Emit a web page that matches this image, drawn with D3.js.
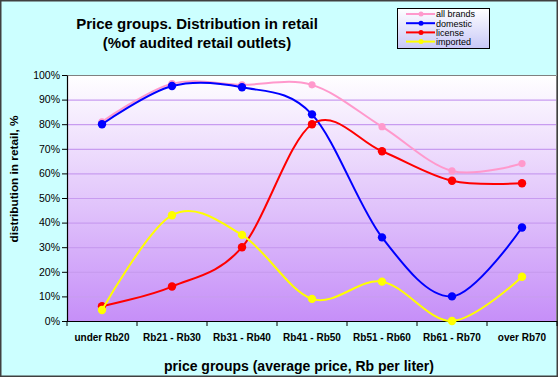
<!DOCTYPE html>
<html><head><meta charset="utf-8">
<script src="https://cdn.jsdelivr.net/npm/d3@7"></script>
<style>body{margin:0;padding:0;background:#fff}svg{display:block}text{font-family:Arial,"Liberation Sans",sans-serif}</style>
</head><body>
<svg id="c" width="559" height="378"></svg>
<script>
const categories = ["under Rb20","Rb21 - Rb30","Rb31 - Rb40","Rb41 - Rb50","Rb51 - Rb60","Rb61 - Rb70","over Rb70"];
const allBrands = [81, 96.5, 96, 96, 79, 61, 64];
const domestic  = [80, 95.5, 95, 84, 34, 10, 38];
const license   = [6, 14, 30, 80, 69, 57, 56];
const imported  = [4.5, 43, 35, 9, 16, 0, 18];
const yTicks = [0,10,20,30,40,50,60,70,80,90,100];
const seriesNames = ["all brands","domestic","license","imported"];
const seriesColors = ["#FF99CC","#0000FF","#FF0000","#FFFF00"];
const seriesData = [allBrands, domestic, license, imported];

const svg = d3.select("#c");
const W = 559, H = 378;
const L = 67, R = 557, T = 75, B = 321;

svg.append("rect").attr("x",0.75).attr("y",0.75).attr("width",W-2.5).attr("height",H-2.5)
  .attr("fill","#CCFFFF").attr("stroke","#404040").attr("stroke-width",1.5);

const defs = svg.append("defs");
const g1 = defs.append("linearGradient").attr("id","pg").attr("x1",0).attr("y1",0).attr("x2",0).attr("y2",1);
g1.append("stop").attr("offset","0%").attr("stop-color","#FFFFFF");
g1.append("stop").attr("offset","100%").attr("stop-color","#C68FF8");
const g2 = defs.append("linearGradient").attr("id","lg").attr("x1",0).attr("y1",0).attr("x2",0).attr("y2",1);
g2.append("stop").attr("offset","0%").attr("stop-color","#FFFFFF");
g2.append("stop").attr("offset","100%").attr("stop-color","#C8C8F8");

const x = d3.scaleBand().domain(categories).range([L,R]).padding(0);
const y = d3.scaleLinear().domain([0,100]).range([B,T]);

svg.append("rect").attr("x",L).attr("y",T).attr("width",R-L).attr("height",B-T).attr("fill","url(#pg)");

// gridlines
svg.append("g").selectAll("line").data(yTicks.filter(d=>d>0 && d<100)).join("line")
  .attr("x1",L).attr("x2",R).attr("y1",d=>y(d)+0.5).attr("y2",d=>y(d)+0.5)
  .attr("stroke","#C89CF0").attr("stroke-width",1.2);

// plot border top/right
svg.append("path").attr("d",`M${L},${T+0.5}H${R-0.5}V${B}`).attr("fill","none").attr("stroke","#808080").attr("stroke-width",1);

// y axis
const yAxis = d3.axisLeft(y).tickValues(yTicks).tickFormat(d=>d+"%").tickSize(5).tickSizeOuter(0);
const ya = svg.append("g").attr("transform",`translate(${L},0)`).call(yAxis);
ya.select(".domain").attr("stroke","#000").attr("stroke-width",1.2);
ya.selectAll(".tick line").attr("stroke","#000");
ya.selectAll(".tick text").attr("font-size",10.5).attr("fill","#000").attr("x",-7).style("font-family","Arial, 'Liberation Sans', sans-serif");

// x axis
const xb = d3.scaleLinear().domain([0,categories.length]).range([L,R]);
const xa = svg.append("g").attr("transform",`translate(0,${B})`);
xa.append("line").attr("x1",L).attr("x2",R).attr("y1",0.5).attr("y2",0.5).attr("stroke","#000").attr("stroke-width",1.2);
xa.selectAll("line.t").data(d3.range(categories.length+1)).join("line").attr("class","t")
  .attr("x1",d=>xb(d)).attr("x2",d=>xb(d)).attr("y1",0).attr("y2",5).attr("stroke","#000");
xa.selectAll("text").data(categories).join("text")
  .attr("x",d=>x(d)+x.bandwidth()/2).attr("y",19.5).attr("text-anchor","middle")
  .attr("font-size",10).attr("font-weight","bold").text(d=>d);

// lines
const line = d3.line().x((d,i)=>x(categories[i])+x.bandwidth()/2).y(d=>y(d)).curve(d3.curveCardinal.tension(0));
seriesData.forEach((data,k)=>{
  const gs = svg.append("g");
  gs.append("path").datum(data).attr("d",line).attr("fill","none").attr("stroke",seriesColors[k]).attr("stroke-width",2);
  gs.selectAll("circle").data(data).join("circle")
    .attr("cx",(d,i)=>x(categories[i])+x.bandwidth()/2).attr("cy",d=>y(d))
    .attr("r",k===0?3.6:4.2).attr("fill",seriesColors[k]);
});

// titles
svg.append("text").attr("x",197).attr("y",28.5).attr("text-anchor","middle").attr("font-size",15).attr("font-weight","bold").text("Price groups. Distribution in retail");
svg.append("text").attr("x",197).attr("y",47.5).attr("text-anchor","middle").attr("font-size",15).attr("font-weight","bold").text("(%of audited retail outlets)");
svg.append("text").attr("x",299).attr("y",371).attr("text-anchor","middle").attr("font-size",14).attr("font-weight","bold").text("price groups (average price, Rb per liter)");
svg.append("text").attr("transform","translate(17.5,179) rotate(-90)").attr("text-anchor","middle").attr("font-size",11.8).attr("font-weight","bold").text("distribution in retail, %");

// legend
const lg = svg.append("g");
lg.append("rect").attr("x",397.5).attr("y",8.5).attr("width",92).attr("height",40).attr("fill","url(#lg)").attr("stroke","#000").attr("stroke-width",1);
seriesNames.forEach((n,k)=>{
  const yy = 14 + k*9.2;
  lg.append("line").attr("x1",406).attr("x2",435).attr("y1",yy).attr("y2",yy).attr("stroke",seriesColors[k]).attr("stroke-width",2);
  lg.append("circle").attr("cx",421).attr("cy",yy).attr("r",2.5).attr("fill",seriesColors[k]);
  lg.append("text").attr("x",436).attr("y",yy+3.3).attr("font-size",9).text(n);
});
</script>
</body></html>
